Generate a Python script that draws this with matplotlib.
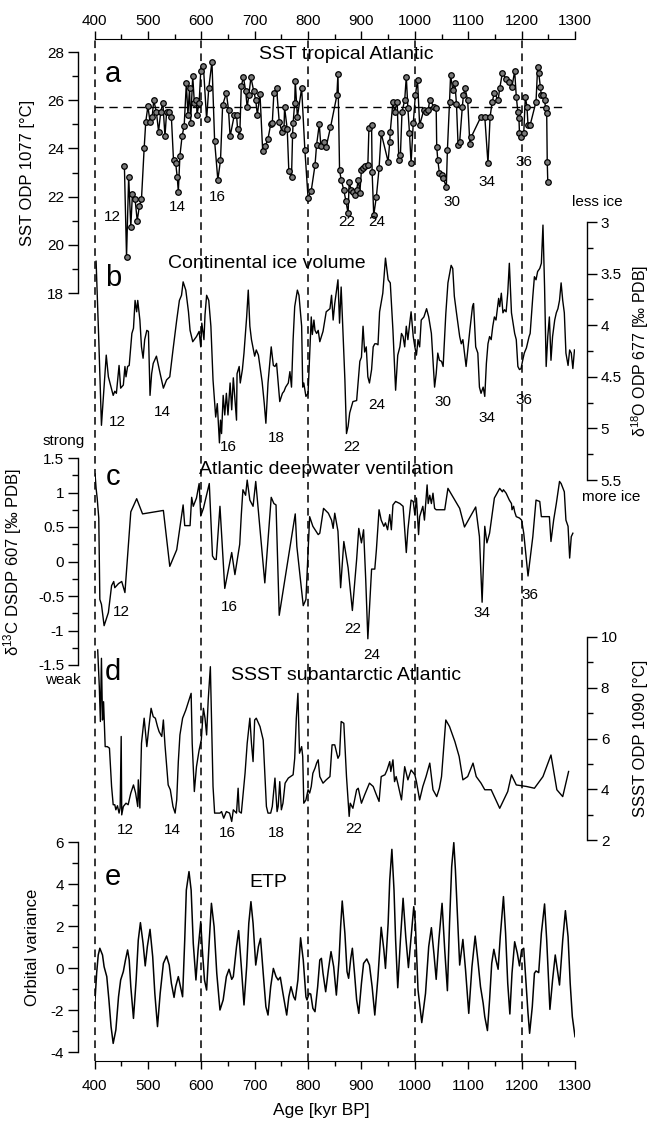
import matplotlib
matplotlib.use('Agg')
import matplotlib.pyplot as plt
from matplotlib.ticker import MultipleLocator, FormatStrFormatter

plt.rcParams['font.family'] = ['Liberation Sans', 'DejaVu Sans']
plt.rcParams['axes.unicode_minus'] = False
plt.rcParams['mathtext.fontset'] = 'custom'
plt.rcParams['mathtext.rm'] = 'Liberation Sans'
plt.rcParams['mathtext.it'] = 'Liberation Sans:italic'

# a: SST tropical Atlantic, ODP 1077
age_a = [456, 460, 464, 468, 471, 476, 480, 484, 488, 493, 496, 500, 504, 508, 511, 516, 520, 524, 528, 532,
         535, 539, 544, 548, 552, 555, 557, 560, 564, 568, 572, 575, 578, 580, 584, 587, 591, 592, 596, 599,
         604, 610, 614, 620, 625, 631, 636, 640, 647, 651, 654, 662, 666, 668, 672, 675, 679, 683, 686, 689,
         693, 698, 702, 705, 710, 715, 720, 725, 730, 733, 736, 741, 746, 751, 755, 756, 761, 764, 769, 771,
         772, 775, 776, 780, 788, 794, 800, 806, 813, 816, 821, 824, 829, 834, 842, 854, 856, 859, 862, 867,
         871, 875, 877, 881, 884, 887, 891, 894, 897, 900, 903, 907, 912, 914, 919, 920, 923, 928, 933, 937,
         950, 953, 954, 959, 962, 967, 970, 973, 976, 981, 984, 987, 990, 993, 997, 1001, 1005, 1009, 1017, 1020,
         1025, 1028, 1036, 1040, 1041, 1043, 1046, 1050, 1053, 1059, 1061, 1065, 1067, 1071, 1075, 1078, 1081, 1084, 1089, 1091,
         1094, 1099, 1103, 1106, 1124, 1131, 1137, 1141, 1145, 1149, 1156, 1159, 1164, 1171, 1177, 1182, 1187, 1190, 1193, 1195,
         1196, 1199, 1204, 1207, 1210, 1212, 1216, 1227, 1230, 1232, 1235, 1237, 1240, 1243, 1245, 1247, 1248, 1249]
sst_a = [23.27, 19.5, 22.83, 20.75, 22.1, 21.9, 21.0, 21.6, 21.9, 24.0, 25.1, 25.75, 25.1, 25.3, 26.0, 25.5, 24.7, 25.5, 25.9, 24.5,
         25.5, 25.5, 25.3, 23.5, 23.4, 22.8, 22.2, 23.7, 24.5, 24.95, 26.7, 25.4, 26.5, 25.05, 27.0, 25.9, 26.0, 25.4, 25.9, 27.2,
         27.4, 25.2, 26.5, 27.6, 24.3, 22.7, 23.5, 25.8, 26.3, 25.6, 24.5, 25.4, 25.4, 24.8, 24.5, 26.6, 26.95, 26.4, 25.7, 26.2,
         26.95, 26.4, 26.0, 25.4, 26.25, 23.9, 24.1, 24.4, 25.0, 25.05, 26.3, 26.5, 25.1, 24.7, 24.85, 25.7, 24.8, 23.05, 22.8, 24.55,
         25.05, 25.9, 26.8, 25.3, 26.5, 23.95, 21.95, 22.25, 23.3, 24.15, 25.0, 24.1, 24.28, 24.07, 24.87, 26.2, 27.1, 23.1, 22.7, 22.27,
         21.8, 21.3, 22.6, 22.27, 22.2, 22.07, 22.27, 22.7, 22.16, 23.1, 23.17, 23.28, 23.31, 24.83, 24.97, 23.03, 21.23, 22.0, 23.17, 24.63,
         23.45, 24.28, 24.7, 25.94, 25.52, 25.94, 23.52, 23.73, 25.52, 26.0, 26.98, 25.66, 24.63, 23.38, 25.04, 26.2, 26.84, 24.97, 25.6, 25.52,
         25.6, 26.0, 25.73, 25.66, 24.07, 23.52, 22.97, 22.9, 22.76, 22.41, 23.93, 25.94, 27.05, 26.42, 26.7, 25.84, 24.14, 24.28, 25.73, 26.2,
         26.49, 26.0, 24.2, 24.49, 25.32, 25.32, 23.38, 25.32, 25.94, 26.31, 26.0, 26.49, 27.14, 26.88, 26.77, 26.56, 27.21, 26.15, 25.52, 25.25,
         24.63, 24.49, 24.63, 26.15, 25.73, 24.97, 24.97, 25.94, 27.36, 27.14, 26.56, 26.2, 26.2, 26.0, 25.66, 25.45, 23.45, 22.62]
sst_mean = 25.7

# b: continental ice volume, d18O ODP 677
age_b = [403, 408, 413, 422, 426, 431, 435, 438, 441, 446, 449, 454, 457, 459, 462, 465, 470, 473, 476, 479,
         481, 485, 488, 491, 494, 498, 501, 504, 507, 510, 516, 523, 529, 535, 541, 547, 554, 559, 563, 566,
         571, 576, 579, 584, 591, 596, 599, 601, 605, 607, 610, 614, 618, 622, 627, 630, 634, 636, 638, 641,
         644, 647, 650, 654, 657, 660, 663, 666, 667, 671, 673, 677, 680, 685, 688, 691, 694, 697, 700, 703,
         707, 710, 714, 718, 721, 725, 728, 731, 735, 738, 741, 747, 752, 755, 758, 763, 766, 769, 772, 775,
         780, 783, 788, 790, 792, 796, 800, 803, 806, 808, 811, 813, 816, 819,
         822, 828, 834, 841, 844, 847, 850, 856, 859, 862, 866, 869, 872, 875, 878, 884, 891, 897, 900, 903,
         906, 909, 912, 915, 919, 922, 925, 928, 931, 934, 940, 945, 950, 954, 959, 964, 968, 972, 975, 978,
         981, 984, 987, 990, 993, 997, 1000, 1003, 1006, 1009, 1012, 1017, 1022, 1026, 1031, 1034, 1037, 1040, 1043, 1046,
         1050, 1053, 1058, 1062, 1068, 1071, 1074, 1078, 1084, 1087, 1090, 1096, 1103, 1108, 1110, 1114, 1118, 1121, 1124, 1128,
         1131, 1134, 1137, 1140, 1143, 1146, 1149, 1152, 1157, 1159, 1162, 1165, 1168, 1171, 1174, 1177, 1181, 1184, 1187, 1190,
         1193, 1196, 1199, 1202, 1205, 1209, 1214, 1216, 1221, 1224, 1227, 1230, 1234, 1237, 1240, 1243, 1246, 1249, 1252, 1255,
         1258, 1262, 1265, 1268, 1271, 1274, 1277, 1280, 1283, 1287, 1290, 1293, 1296, 1299]
d18o_b = [3.38, 4.14, 4.97, 4.29, 4.50, 4.60, 4.68, 4.64, 4.66, 4.39, 4.61, 4.58, 4.40, 4.50, 4.40, 4.39, 4.08, 4.03, 3.76, 3.87,
          3.76, 3.95, 4.21, 4.32, 4.14, 4.05, 4.06, 4.68, 4.47, 4.37, 4.30, 4.47, 4.61, 4.53, 4.50, 4.24, 3.95, 3.76, 3.71, 3.58,
          3.66, 3.87, 4.05, 4.16, 4.11, 4.06, 4.21, 3.98, 4.14, 3.90, 3.71, 3.76, 4.01, 4.53, 4.89, 4.76, 5.14, 4.92, 5.05, 4.68,
          4.87, 4.66, 4.87, 4.56, 4.82, 4.51, 4.71, 4.92, 4.47, 4.40, 4.56, 4.43, 4.27, 3.92, 3.66, 4.01, 4.14, 4.22, 4.30, 4.24,
          4.29, 4.40, 4.55, 4.76, 4.95, 4.56, 4.39, 4.21, 4.39, 4.40, 4.37, 4.74, 4.66, 4.64, 4.60, 4.56, 4.45, 4.60, 4.14, 3.82,
          3.66, 3.71, 4.01, 4.60, 4.56, 4.69, 4.66, 4.30, 3.92, 4.09, 3.95, 4.05, 4.08, 4.05,
          4.16, 4.06, 3.87, 3.84, 3.71, 3.95, 3.79, 3.56, 3.98, 3.63, 4.14, 4.53, 5.05, 4.98, 4.85, 4.74, 4.73, 4.35, 4.31, 4.01,
          4.26, 4.21, 4.50, 4.56, 4.43, 4.21, 4.18, 4.18, 4.19, 3.87, 3.69, 3.35, 3.56, 3.59, 4.05, 4.63, 4.29, 4.21, 4.08, 4.11,
          4.21, 4.01, 4.14, 4.00, 3.87, 4.11, 4.21, 4.29, 4.14, 4.21, 3.95, 3.92, 3.84, 3.92, 4.08, 4.34, 4.60, 4.47, 4.27, 4.34,
          4.35, 4.40, 3.89, 3.59, 3.42, 3.45, 3.72, 3.88, 4.11, 4.18, 4.14, 4.40, 4.05, 3.82, 3.79, 4.21, 4.27, 4.60, 4.66, 4.60,
          4.69, 4.37, 4.18, 4.11, 4.14, 4.01, 3.92, 3.95, 3.74, 3.82, 3.69, 3.88, 3.85, 3.87, 3.69, 3.40, 3.88, 3.98, 4.08, 4.14,
          4.40, 4.43, 4.42, 4.34, 4.27, 4.22, 4.11, 4.08, 3.72, 3.53, 3.56, 3.48, 3.45, 3.40, 3.03, 3.63, 4.40, 4.11, 3.92, 4.34,
          4.11, 3.95, 3.88, 3.84, 3.76, 3.59, 3.76, 3.88, 4.27, 4.39, 4.24, 4.27, 4.42, 4.24]

# c: Atlantic deepwater ventilation, d13C DSDP 607
age_c = [401, 403, 405, 408, 410, 413, 418, 426, 432, 436, 438, 445, 451, 457, 468, 479, 490, 529, 541, 554,
         566, 569, 579, 582, 585, 591, 596, 599, 604, 615, 621, 625, 628, 635, 644, 657, 663, 672, 675, 678,
         683, 686, 691, 697, 702, 719, 731, 736, 740, 746, 776, 779, 791, 796, 803, 809, 819,
         822, 829, 838, 844, 847, 850, 856, 861, 867, 875, 883, 891, 895, 900, 904, 908, 912, 919, 925, 928,
         933, 937, 942, 945, 949, 953, 956, 959, 964, 972, 978, 984, 987, 993, 997, 1000, 1003, 1007, 1009, 1015,
         1018, 1023, 1025, 1028, 1031, 1034, 1037, 1040, 1056, 1062, 1084, 1093, 1114, 1121, 1126, 1131, 1135, 1140, 1149, 1159,
         1164, 1166, 1171, 1174, 1177, 1181, 1182, 1185, 1187, 1190, 1196, 1200, 1204, 1212, 1221, 1227, 1234, 1237, 1246, 1252,
         1255, 1260, 1265, 1271, 1274, 1280, 1283, 1287, 1290, 1293, 1296]
d13c_c = [1.27, 1.06, 0.92, 0.63, -0.55, -0.62, -0.93, -0.74, -0.35, -0.29, -0.38, -0.32, -0.29, -0.45, 0.72, 0.91, 0.69, 0.74, -0.07, 0.17,
          0.82, 0.52, 0.52, 0.93, 0.80, 0.92, 1.13, 0.66, 0.77, 1.13, 0.08, 0.03, 0.03, 0.80, -0.39, 0.13, -0.19, 0.25, 0.68, 1.04,
          0.96, 1.18, 0.89, 0.80, 1.16, -0.31, 0.93, 0.84, 0.82, -0.78, 0.69, 0.22, -0.64, -0.55, 0.65, 0.51, 0.39,
          0.41, 0.77, 0.70, 0.60, 0.48, 0.70, 0.44, -0.38, 0.29, -0.09, -0.71, 0.03, 0.48, 0.27, 0.46, -0.26, -1.12, -0.11, -0.11, 0.17,
          0.75, 0.60, 0.51, 0.56, 0.46, 0.68, 0.46, 0.82, 0.87, 0.84, 0.80, 0.13, 0.46, 0.89, 0.87, 0.68, 0.92, 0.39, 0.65, 0.80,
          0.60, 1.11, 0.84, 0.96, 0.84, 0.99, 0.77, 0.75, 0.75, 1.06, 0.77, 0.50, 0.79, 0.36, -0.59, 0.51, 0.27, 0.41, 0.92, 1.06,
          1.01, 1.04, 0.99, 0.94, 0.89, 0.84, 0.75, 0.80, 0.72, 0.65, 0.63, 0.60, 0.41, -0.21, 0.36, 0.89, 0.87, 0.65, 0.65, 0.65,
          0.29, 0.60, 0.84, 1.16, 1.13, 1.01, 0.60, 0.51, 0.05, 0.36, 0.41]

# d: SSST subantarctic Atlantic, ODP 1090
age_d = [406, 409, 411, 413, 415, 417, 420, 424, 428, 432, 435, 438, 440, 443, 446, 448, 450, 451, 454, 459,
         463, 468, 473, 477, 481, 482, 485, 488, 493, 498, 502, 506, 510, 514, 518, 521, 526, 529, 532, 538,
         542, 547, 551, 554, 557, 560, 565, 571, 577, 581, 583, 587, 591, 596, 600, 604, 607, 610, 613, 617,
         622, 625, 635, 638, 642, 647, 653, 657, 660, 666, 669, 671, 675, 682, 686, 691, 694, 697, 700, 703,
         710, 716, 719, 722, 725, 730, 733, 738, 742, 744, 747, 750, 753, 757, 763, 767, 772, 775, 778, 781,
         784, 788, 790, 792, 796, 800, 803, 806, 809, 813, 816, 819,
         822, 828, 834, 841, 845, 850, 856, 859, 862, 867, 872, 877, 879, 884, 891, 894, 900, 906, 915, 922,
         928, 933, 937, 944, 948, 953, 955, 959, 962, 965, 968, 975, 981, 987, 993, 1000, 1003, 1009, 1015, 1021,
         1028, 1034, 1041, 1046, 1050, 1058, 1065, 1075, 1083, 1090, 1099, 1109, 1115, 1124, 1131, 1143, 1159, 1174, 1181, 1190,
         1209, 1224, 1240, 1255, 1266, 1277, 1288]
ssst_d = [9.49, 8.04, 6.67, 9.16, 6.73, 7.45, 5.68, 5.68, 5.62, 4.11, 3.39, 3.39, 3.19, 3.35, 3.06, 3.26, 6.08, 2.99, 3.32, 3.45,
          3.39, 3.85, 4.17, 3.85, 3.32, 4.37, 3.26, 5.81, 6.80, 5.68, 6.47, 7.19, 6.86, 6.80, 6.47, 6.27, 6.08, 6.73, 5.75, 4.17,
          3.98, 3.32, 3.06, 3.58, 5.09, 6.14, 6.80, 7.12, 7.52, 7.78, 5.81, 3.91, 4.89, 5.55, 5.94, 7.19, 6.80, 6.14, 7.52, 8.83,
          4.11, 3.06, 3.06, 3.12, 2.86, 3.12, 3.06, 2.73, 3.19, 3.06, 4.04, 3.12, 3.06, 4.63, 5.81, 6.80, 5.81, 5.09, 6.73, 6.80,
          6.47, 5.94, 4.63, 3.32, 3.06, 3.06, 3.32, 4.44, 3.12, 3.32, 4.30, 3.19, 3.45, 4.24, 4.44, 4.50, 4.57, 5.22, 6.80, 7.78,
          5.42, 5.68, 5.29, 3.45, 3.58, 3.98, 3.85, 4.11, 4.63, 4.83, 5.03, 5.16,
          4.50, 4.24, 4.37, 4.50, 5.75, 5.75, 5.22, 5.35, 6.67, 6.60, 4.50, 2.93, 3.45, 3.25, 3.98, 4.04, 3.45, 3.78, 4.24, 4.11,
          3.78, 3.52, 4.50, 4.57, 4.76, 5.09, 4.70, 5.16, 4.30, 4.50, 4.24, 3.58, 4.89, 4.37, 4.76, 4.57, 4.30, 3.58, 4.11, 4.50,
          5.03, 3.98, 3.71, 4.04, 4.50, 6.73, 6.47, 5.88, 5.29, 4.37, 4.50, 5.03, 4.50, 4.24, 3.98, 3.98, 3.25, 3.91, 4.57, 4.17,
          4.11, 4.04, 4.50, 5.35, 3.98, 3.71, 4.70]

# e: ETP orbital variance
age_e = [399, 401, 404, 407, 410, 415, 418, 423, 427, 431, 435, 440, 445, 449, 454, 458, 462, 465, 468, 473,
         478, 482, 486, 491, 495, 499, 504, 509, 513, 518, 523, 529, 535, 540, 544, 549, 552, 557, 561, 565,
         569, 572, 577, 581, 585, 590, 594, 599, 602, 606, 610, 614, 619, 624, 629, 635, 641, 647, 652, 657,
         660, 666, 670, 675, 680, 685, 689, 693, 697, 702, 707, 711, 716, 721, 725, 730, 735, 740, 744, 748,
         753, 760, 764, 768, 773, 776, 781, 786, 791, 796, 798, 802, 805, 809, 813, 818, 822, 825, 828, 833,
         838, 843, 848, 853, 858, 861, 864, 869, 873, 876, 880, 883, 887, 891, 895, 900, 904, 910, 915, 920,
         925, 931, 937, 942, 945, 950, 953, 957, 961, 964, 968, 973, 978, 983, 988, 993, 998, 1001, 1006, 1013,
         1020, 1026, 1031, 1036, 1040, 1045, 1051, 1056, 1061, 1065, 1069, 1073, 1076, 1081, 1084, 1090, 1095, 1101, 1107, 1113,
         1118, 1123, 1128, 1131, 1136, 1140, 1144, 1148, 1152, 1156, 1160, 1166, 1170, 1174, 1178, 1182, 1187, 1192, 1196, 1200,
         1204, 1207, 1212, 1215, 1220, 1224, 1227, 1232, 1237, 1243, 1247, 1253, 1258, 1263, 1271, 1277, 1282, 1287, 1291, 1295,
         1300]
etp_e = [-2.95, -1.52, -0.25, 0.62, 0.94, 0.62, 0.06, -0.41, -1.52, -2.79, -3.59, -2.95, -1.37, -0.57, -0.17, 0.38, 0.86, 0.38, -0.89, -2.40,
         -0.57, 1.33, 2.16, 1.17, 0.10, 1.02, 1.84, 0.54, -1.21, -2.79, -1.21, 0.22, 0.57, 0.14, -0.73, -1.40, -0.89, -0.41, -0.89, -1.37,
         1.33, 3.71, 4.59, 3.71, 1.17, -0.57, 0.86, 2.21, 0.86, -0.57, -1.05, 0.86, 3.08, 1.97, -0.25, -2.00, -1.52, -0.41, -0.06, -0.54,
         -0.41, 1.02, 1.78, 0.06, -1.76, 0.06, 2.13, 3.16, 2.13, 0.14, 1.02, 1.41, -0.25, -1.84, -2.24, -0.89, -0.02, -0.41, -0.57, -0.44,
         -1.21, -2.24, -1.37, -0.89, -1.37, -1.52, -0.57, 1.44, 0.38, -1.37, -1.52, -1.21, -1.24, -1.92, -2.08, -0.89, 0.38, 0.46, -0.25, -1.13,
         -0.10, 0.78, 0.06, -1.29, 0.38, 1.97, 3.19, 1.65, -0.17, -0.49, 0.46, 0.94, -0.25, -1.52, -2.16, -0.73, 0.22, 0.43, 0.14, -0.89,
         -2.24, -0.41, 1.94, 0.86, -0.02, 2.13, 4.19, 5.65, 3.71, 1.33, -0.94, 1.33, 3.32, 1.49, 0.02, 1.49, 2.92, 2.13, -1.05, -2.60,
         -1.21, 1.02, 1.92, 0.62, -0.54, 1.33, 3.08, 0.86, -1.08, 2.13, 4.82, 5.97, 4.67, 1.81, 0.14, 1.36, -0.10, -2.16, 0.06, 1.52,
         0.38, -0.89, -1.68, -2.32, -2.98, -1.52, 0.22, 0.89, 0.38, -0.06, 1.49, 3.40, 1.65, -0.73, -2.19, -0.25, 1.25, 0.70, 0.10, 0.86,
         0.94, -0.25, -2.16, -3.11, -1.84, -0.25, -0.14, -0.22, 1.65, 3.05, 1.33, -1.97, -0.57, 0.62, -0.81, 1.33, 2.73, 1.49, -0.73, -2.32,
         -3.27]

# glacial stage numbers  (age, value, label)
mis_a = [(433, 21.15, '12'), (556, 21.57, '14'), (631, 21.98, '16'), (872, 20.95, '22'), (928, 20.95, '24'),
         (1069, 21.78, '30'), (1136, 22.6, '34'), (1204, 23.44, '36')]
mis_b = [(442, 4.94, '12'), (528, 4.84, '14'), (650, 5.18, '16'), (740, 5.09, '18'), (882, 5.18, '22'),
         (929, 4.77, '24'), (1052, 4.74, '30'), (1136, 4.90, '34'), (1204, 4.72, '36')]
mis_c = [(450, -0.73, '12'), (652, -0.66, '16'), (884, -0.98, '22'), (919, -1.36, '24'),
         (1125, -0.75, '34'), (1215, -0.49, '36')]
mis_d = [(457, 2.40, '12'), (545, 2.40, '14'), (648, 2.28, '16'), (740, 2.28, '18'), (885, 2.44, '22')]

W, H = 650.0, 1124.0
X0, X1 = 94.5, 575.0


def frac_y(py):
    return 1 - py / H


def panel(fig, ptop, pbot, side, ylim, major, minor, label, labelx, labelsize=12):
    ax = fig.add_axes([X0 / W, frac_y(pbot), (X1 - X0) / W, (pbot - ptop) / H])
    ax.patch.set_visible(False)
    ax.set_xlim(400, 1300)
    ax.set_ylim(*ylim)
    for s in ['top', 'bottom', 'left', 'right']:
        ax.spines[s].set_visible(False)
    ax.spines[side].set_visible(True)
    ax.spines[side].set_linewidth(1.0)
    ax.spines[side].set_position(('outward', 11.9 if side == 'left' else 8.6))
    ax.xaxis.set_visible(False)
    ax.yaxis.set_major_locator(MultipleLocator(major))
    ax.yaxis.set_minor_locator(MultipleLocator(minor))
    ax.yaxis.set_major_formatter(FormatStrFormatter('%g'))
    if side == 'right':
        ax.yaxis.tick_right()
        ax.yaxis.set_label_position('right')
    ax.tick_params(axis='y', which='major', length=7, width=1.0, labelsize=11, pad=3)
    ax.tick_params(axis='y', which='minor', length=4, width=1.0)
    ax.set_ylabel(label, fontsize=labelsize)
    ax.yaxis.set_label_coords(labelx, 0.5)
    return ax


def main():
    fig = plt.figure(figsize=(W / 100, H / 100), dpi=100)

    ax0 = fig.add_axes([X0 / W, frac_y(1060.7), (X1 - X0) / W, (1060.7 - 39) / H])
    ax0.patch.set_visible(False)
    ax0.set_xlim(400, 1300)
    ax0.set_yticks([])
    ax0.spines['left'].set_visible(False)
    ax0.spines['right'].set_visible(False)
    ax0.spines['top'].set_visible(False)
    ax0.xaxis.set_major_locator(MultipleLocator(100))
    ax0.xaxis.set_minor_locator(MultipleLocator(50))
    ax0.tick_params(axis='x', which='both', direction='out', width=1.0, labelsize=11)
    ax0.tick_params(axis='x', which='major', length=5.5, pad=8)
    ax0.tick_params(axis='x', which='minor', length=3.5)

    axt = ax0.twiny()
    axt.set_xlim(400, 1300)
    axt.set_yticks([])
    for s in ['left', 'right', 'bottom']:
        axt.spines[s].set_visible(False)
    axt.xaxis.set_major_locator(MultipleLocator(100))
    axt.xaxis.set_minor_locator(MultipleLocator(50))
    axt.tick_params(axis='x', which='both', direction='out', width=1.0, labelsize=11)
    axt.tick_params(axis='x', which='major', length=5.5, pad=2.5)
    axt.tick_params(axis='x', which='minor', length=3.5)

    for x in [400, 600, 800, 1000, 1200]:
        ax0.axvline(x, color='black', lw=1.1, ls=(0, (5, 3.5)), clip_on=False)
    fig.text(321 / W, frac_y(1111), 'Age [kyr BP]', ha='center', va='center', fontsize=12.5)

    # a
    ax_a = panel(fig, 52, 293, 'left', (18, 28), 2, 1, 'SST ODP 1077 [°C]', -0.123)
    ax_a.plot([400, 1285], [sst_mean, sst_mean], color='black', lw=1.0, ls=(0, (6, 4)))
    ax_a.plot(age_a, sst_a, color='black', lw=1.0, marker='o', ms=4, mfc='#7a7a7a', mec='black', mew=0.9)
    ax_a.text(435, 27.09, 'a', fontsize=21, ha='center', va='center')
    ax_a.text(871, 27.88, 'SST tropical Atlantic', fontsize=14, ha='center', va='center')
    for x, y, s in mis_a:
        ax_a.text(x, y, s, fontsize=11, ha='center', va='center')

    # b
    ax_b = panel(fig, 222, 480, 'right', (5.5, 3), 0.5, 0.25, r'δ$^{18}$O ODP 677 [‰ PDB]', 1.113, 11.5)
    ax_b.plot(age_b, d18o_b, color='black', lw=1.0)
    ax_b.text(435, 3.54, 'b', fontsize=21, ha='center', va='center')
    ax_b.text(723, 3.40, 'Continental ice volume', fontsize=14, ha='center', va='center')
    ax_b.text(1342, 2.81, 'less ice', fontsize=11, ha='center', va='center')
    ax_b.text(1368, 5.66, 'more ice', fontsize=11, ha='center', va='center')
    for x, y, s in mis_b:
        ax_b.text(x, y, s, fontsize=11, ha='center', va='center')

    # c
    ax_c = panel(fig, 458, 665, 'left', (-1.5, 1.5), 0.5, 0.25, r'δ$^{13}$C DSDP 607 [‰ PDB]', -0.146)
    ax_c.plot(age_c, d13c_c, color='black', lw=1.0)
    ax_c.text(435, 1.22, 'c', fontsize=21, ha='center', va='center')
    ax_c.text(835, 1.33, 'Atlantic deepwater ventilation', fontsize=14, ha='center', va='center')
    ax_c.text(343, 1.75, 'strong', fontsize=11, ha='center', va='center')
    ax_c.text(341, -1.72, 'weak', fontsize=11, ha='center', va='center')
    for x, y, s in mis_c:
        ax_c.text(x, y, s, fontsize=11, ha='center', va='center')

    # d
    ax_d = panel(fig, 637, 840, 'right', (2, 10), 2, 1, 'SSST ODP 1090 [°C]', 1.12)
    ax_d.plot(age_d, ssst_d, color='black', lw=1.0)
    ax_d.text(435, 8.62, 'd', fontsize=21, ha='center', va='center')
    ax_d.text(871, 8.50, 'SSST subantarctic Atlantic', fontsize=14, ha='center', va='center')
    for x, y, s in mis_d:
        ax_d.text(x, y, s, fontsize=11, ha='center', va='center')

    # e
    ax_e = panel(fig, 842, 1052, 'left', (-4, 6), 2, 1, 'Orbital variance', -0.113)
    ax_e.plot(age_e, etp_e, color='black', lw=1.1)
    ax_e.text(435, 4.33, 'e', fontsize=21, ha='center', va='center')
    ax_e.text(725, 4.05, 'ETP', fontsize=14, ha='center', va='center')

    fig.savefig('out.png', dpi=100)


if __name__ == '__main__':
    main()
